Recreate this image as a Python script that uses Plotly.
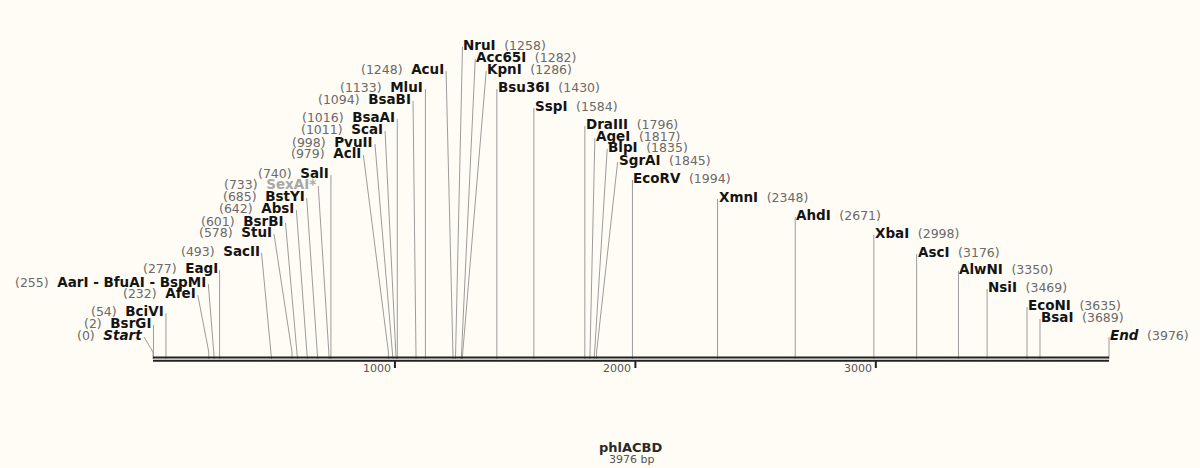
import plotly.graph_objects as go

# ---- sequence ----
seq_name = "phlACBD"
seq_length = 3976

# ---- cut sites (bp), labels placed to the left of their line ----
left_names = ["Start", "BsrGI", "BciVI", "AfeI", "AarI - BfuAI - BspMI", "EagI",
              "SacII", "StuI", "BsrBI", "AbsI", "BstYI", "SexAI*", "SalI",
              "AclI", "PvuII", "ScaI", "BsaAI", "BsaBI", "MluI", "AcuI"]
left_sites = [0, 2, 54, 232, 255, 277, 493, 578, 601, 642, 685, 733, 740,
              979, 998, 1011, 1016, 1094, 1133, 1248]

# ---- cut sites (bp), labels placed to the right of their line ----
right_names = ["NruI", "Acc65I", "KpnI", "Bsu36I", "SspI", "DraIII", "AgeI", "BlpI",
               "SgrAI", "EcoRV", "XmnI", "AhdI", "XbaI", "AscI", "AlwNI", "NsiI",
               "EcoNI", "BsaI", "End"]
right_sites = [1258, 1282, 1286, 1430, 1584, 1796, 1817, 1835, 1845, 1994,
               2348, 2671, 2998, 3176, 3350, 3469, 3635, 3689, 3976]

ruler_ticks = [1000, 2000, 3000]

# ---- label layout (screen pixels) ----
left_label_y = [335, 323, 311, 293, 282, 268, 251, 232, 221, 208, 196, 184, 173,
                153, 142, 129, 117, 99, 87, 69]
left_label_shift = [-9, 0, 0, -11, -6, 0, -10, -18, -12, -11, -11, -11, 0,
                    -25, -18, -11, 0, -3, 0, -7]
right_label_y = [45, 57, 69, 87, 106, 124, 136, 147, 160, 178, 197, 215, 233,
                 252, 269, 287, 305, 317, 335]
right_label_shift = [7, 14, 24, 0, 0, 0, 5, 13, 21, 0, 0, 0, 0, 0, 0, 0, 0, 0, 0]

W, H = 1200, 468
X0_PX, X1_PX = 153, 1109          # where base 0 and the last base fall
BAR_Y = 359
px_per_bp = (X1_PX - X0_PX) / seq_length
x_range = [-X0_PX / px_per_bp, (W - X0_PX) / px_per_bp]

FONT = "DejaVu Sans"
NAME_FS = 13.5
POS_FS = 12.5
NAME_C = "#141414"
POS_C = "#6a6a6a"
LINE_C = "#9c9c9c"
SPECIAL = {"Start", "End"}
DIMMED = {"SexAI*"}


def name_html(name):
    if name in SPECIAL:
        return f"<b><i>{name}</i></b>"
    if name in DIMMED:
        return f"<span style='color:#a8a8a8'><b>{name}</b></span>"
    return f"<b>{name}</b>"


def pos_html(site):
    return f"<span style='color:{POS_C};font-size:{POS_FS}px'>({site})</span>"


lx, ly = [], []
annotations = []

for name, site, y, shift in zip(left_names, left_sites, left_label_y, left_label_shift):
    ax = site + shift / px_per_bp
    lx += [ax, site, site, None]
    ly += [y + 2, BAR_Y - 7, BAR_Y, None]
    annotations.append(dict(
        x=ax - 1 / px_per_bp, y=y, xref="x", yref="y", showarrow=False,
        xanchor="right", yanchor="middle", borderpad=0,
        text=f"{pos_html(site)}  {name_html(name)}",
        font=dict(family=FONT, size=NAME_FS, color=NAME_C)))

for name, site, y, shift in zip(right_names, right_sites, right_label_y, right_label_shift):
    ax = site + shift / px_per_bp
    lx += [ax, site, site, None]
    ly += [y + 2, BAR_Y - 7, BAR_Y, None]
    annotations.append(dict(
        x=ax, y=y, xref="x", yref="y", showarrow=False,
        xanchor="left", yanchor="middle", borderpad=0,
        text=f"{name_html(name)}  {pos_html(site)}",
        font=dict(family=FONT, size=NAME_FS, color=NAME_C)))

fig = go.Figure()
fig.add_trace(go.Scatter(x=lx, y=ly, mode="lines",
                         line=dict(color=LINE_C, width=1), hoverinfo="skip"))

shapes = [
    dict(type="line", xref="x", yref="y", x0=0, x1=seq_length, y0=BAR_Y - 1.6, y1=BAR_Y - 1.6,
         line=dict(color="#222222", width=2)),
    dict(type="line", xref="x", yref="y", x0=0, x1=seq_length, y0=BAR_Y + 1.8, y1=BAR_Y + 1.8,
         line=dict(color="#222222", width=2)),
]
for t in ruler_ticks:
    tx = t + 1.5 / px_per_bp
    shapes.append(dict(type="line", xref="x", yref="y", x0=tx, x1=tx,
                       y0=BAR_Y + 2, y1=BAR_Y + 9, line=dict(color="#222222", width=2)))
    annotations.append(dict(x=tx - 2 / px_per_bp, y=BAR_Y + 9, xref="x", yref="y",
                            showarrow=False, xanchor="right", yanchor="middle",
                            text=str(t), font=dict(family=FONT, size=11, color="#555555")))

annotations.append(dict(x=seq_length / 2, y=447, xref="x", yref="y", showarrow=False,
                        xanchor="center", yanchor="middle", text=f"<b>{seq_name}</b>",
                        font=dict(family=FONT, size=13, color="#2a2a2a")))
annotations.append(dict(x=seq_length / 2, y=459, xref="x", yref="y", showarrow=False,
                        xanchor="center", yanchor="middle", text=f"{seq_length} bp",
                        font=dict(family=FONT, size=11, color="#555555")))

fig.update_layout(
    width=W, height=H,
    margin=dict(l=0, r=0, t=0, b=0),
    paper_bgcolor="#fffcf6", plot_bgcolor="#fffcf6",
    showlegend=False,
    xaxis=dict(range=x_range, visible=False, fixedrange=True),
    yaxis=dict(range=[H, 0], visible=False, fixedrange=True),
    shapes=shapes,
    annotations=annotations,
)

fig.write_html("out.html")
